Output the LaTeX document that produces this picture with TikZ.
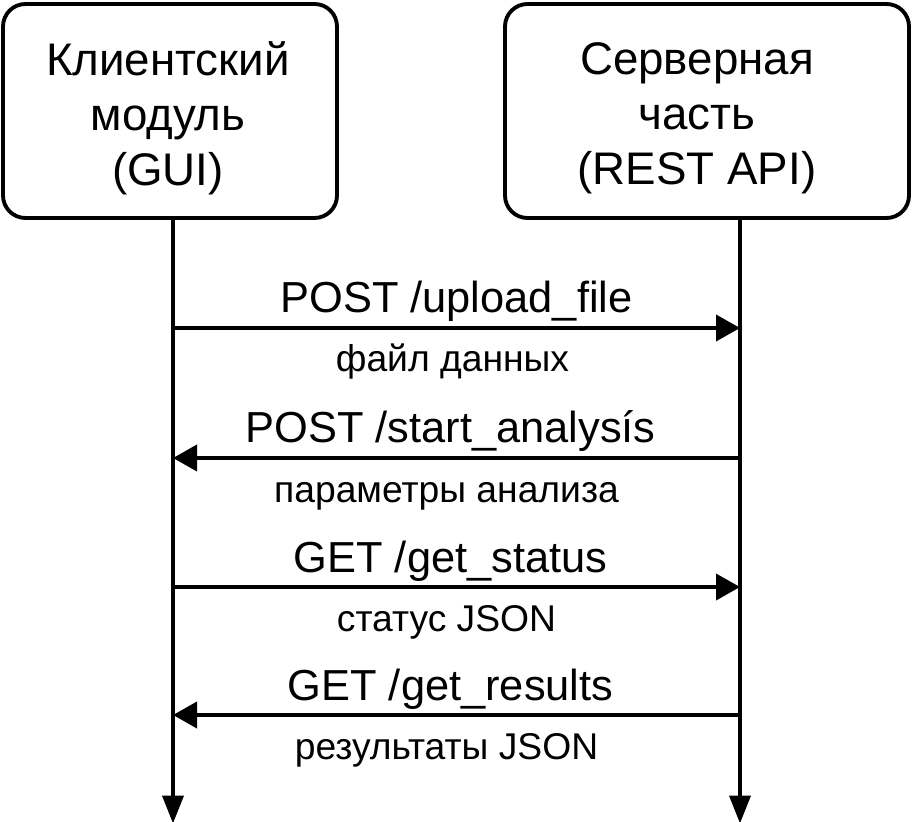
\documentclass[tikz,border=0pt]{standalone}
\usepackage{fontspec}
\setmainfont{Liberation Sans}
\usetikzlibrary{arrows.meta}

\tikzset{
	block/.style={draw, line width=2.2pt, rounded corners=0.45cm, minimum height=4.28cm, inner sep=0pt},
	blocktext/.style={align=center, font=\fontsize{26}{31.3}\selectfont},
	msg/.style={line width=2.2pt, -{Triangle[length=0.48cm,width=0.52cm]}},
	life/.style={line width=2.2pt, -{Triangle[length=0.56cm,width=0.42cm]}},
	req/.style={font=\fontsize{24.7}{29}\selectfont, anchor=base, yshift=0.3cm, xshift=-0.12cm},
	ans/.style={font=\fontsize{21.2}{25}\selectfont, anchor=base, yshift=-0.88cm, xshift=-0.2cm},
}

\begin{document}
\begin{tikzpicture}
	\useasboundingbox (0,0) rectangle (18.28,16.42);
	% participants
	\node[block, minimum width=6.68cm] (client) at (3.4,14.2) {};
	\node[blocktext] (clienttxt) at (3.36,14.06) {Клиентский\\модуль\\(GUI)};
	\node[block, minimum width=8.08cm] (server) at (14.14,14.2) {};
	\node[blocktext] (servertxt) at (13.94,14.06) {Серверная\\часть\\(REST API)};
	% lifelines
	\coordinate (cbot) at (3.46,-0.05);
	\coordinate (sbot) at (14.8,-0.05);
	\draw[life] (client.south -| cbot) -- (cbot);
	\draw[life] (server.south -| sbot) -- (sbot);
	% message points
	\coordinate (c1) at (3.46,9.86);
	\coordinate (s1) at (14.8,9.86);
	\coordinate (c2) at (3.46,7.26);
	\coordinate (s2) at (14.8,7.26);
	\coordinate (c3) at (3.46,4.68);
	\coordinate (s3) at (14.8,4.68);
	\coordinate (c4) at (3.46,2.12);
	\coordinate (s4) at (14.8,2.12);
	% messages
	\draw[msg] (c1) -- (s1) node[midway, req, xshift=0.12cm] (req1) {POST /upload\_file} node[midway, ans, xshift=0.12cm] (ans1) {файл данных};
	\draw[msg] (s2) -- (c2) node[midway, req] (req2) {POST /start\_analysís} node[midway, ans] (ans2) {параметры анализа};
	\draw[msg] (c3) -- (s3) node[midway, req] (req3) {GET /get\_status} node[midway, ans] (ans3) {статус JSON};
	\draw[msg] (s4) -- (c4) node[midway, req] (req4) {GET /get\_results} node[midway, ans] (ans4) {результаты JSON};
\end{tikzpicture}
\end{document}
